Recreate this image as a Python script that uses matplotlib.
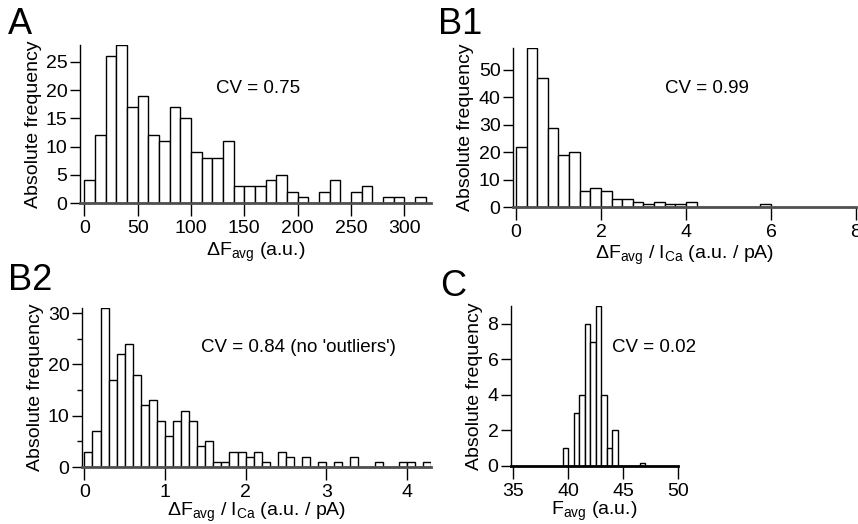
import numpy as np
import matplotlib
matplotlib.use('Agg')
import matplotlib.pyplot as plt

plt.rcParams['font.family'] = ['Liberation Sans', 'DejaVu Sans']
plt.rcParams['mathtext.fontset'] = 'custom'
plt.rcParams['mathtext.rm'] = 'Liberation Sans'
plt.rcParams['mathtext.it'] = 'Liberation Sans:italic'

# histogram counts (bin start, bin width, counts)
a_start, a_width = 0, 10
a_counts = [4, 12, 26, 28, 17, 19, 12, 11, 17, 15, 9, 8, 8, 11, 3, 3, 3, 4, 5, 2,
            1, 0, 2, 4, 0, 2, 3, 0, 1, 1, 0, 1]

b1_start, b1_width = 0, 0.25
b1_counts = [22, 58, 47, 29, 19, 20, 6, 7, 6, 3, 3, 2, 1, 2, 1, 1, 2,
             0, 0, 0, 0, 0, 0, 1]

b2_start, b2_width = 0, 0.1
b2_counts = [3, 7, 31, 17, 22, 24, 18, 12, 13, 9, 6, 9, 11, 9, 4, 5, 1, 1, 3, 3,
             2, 3, 1, 0, 3, 2, 0, 2, 0, 1, 0, 1, 0, 2, 0, 0, 1, 0, 0, 1,
             1, 0, 1]

c_start, c_width = 39.5, 0.5
c_counts = [1, 0, 3, 4, 8, 7, 9, 4, 1, 2, 0, 0, 0, 0, 0.15]

cv_texts = ['CV = 0.75', 'CV = 0.99', "CV = 0.84 (no 'outliers')", 'CV = 0.02']
panel_names = ['A', 'B1', 'B2', 'C']

W, H = 858, 524
fig = plt.figure(figsize=(W / 100, H / 100), dpi=100)

FS = 14


def px_axes(x0, y_top, x1, y_bot):
    return fig.add_axes([x0 / W, 1 - y_bot / H, (x1 - x0) / W, (y_bot - y_top) / H])


def hist_panel(ax, start, width, counts, xlim, ylim, xticks, yticks, yminor=None):
    counts = np.asarray(counts, dtype=float)
    left = start + width * np.arange(len(counts))
    ax.bar(left, counts, width=width, align='edge', facecolor='white',
           edgecolor='black', linewidth=1.0, zorder=3)
    ax.set_xlim(*xlim)
    ax.set_ylim(*ylim)
    ax.set_xticks(xticks)
    ax.set_yticks(yticks)
    if yminor is not None:
        ax.set_yticks(yminor, minor=True)
    for s in ['top', 'right']:
        ax.spines[s].set_visible(False)
    ax.spines['left'].set_bounds(0, ylim[1])
    ax.spines['left'].set_linewidth(1.0)
    ax.spines['bottom'].set_position(('data', 0))
    ax.spines['bottom'].set_linewidth(2.0)
    ax.spines['bottom'].set_color('#505050')
    ax.spines['bottom'].set_zorder(4)
    ax.tick_params(axis='both', direction='out', labelsize=FS, width=1.0,
                   length=7, pad=2)
    ax.tick_params(axis='x', length=9, pad=3)
    ax.tick_params(axis='y', which='minor', length=3.5, width=1.0)
    ax.set_ylabel('Absolute frequency', fontsize=FS, labelpad=3)
    ax.patch.set_alpha(0)


# A
axA = px_axes(80, 45, 431, 203)
hist_panel(axA, a_start, a_width, a_counts, (-4, 325), (0, 28),
           [0, 50, 100, 150, 200, 250, 300], [0, 5, 10, 15, 20, 25])
axA.set_xlabel('ΔF$_{\\rm avg}$ (a.u.)', fontsize=FS, labelpad=3)

# B1
axB1 = px_axes(513, 48, 856, 207)
hist_panel(axB1, b1_start, b1_width, b1_counts, (-0.07, 8), (0, 58),
           [0, 2, 4, 6, 8], [0, 10, 20, 30, 40, 50])
axB1.set_xlabel('ΔF$_{\\rm avg}$ / I$_{\\rm Ca}$ (a.u. / pA)', fontsize=FS, labelpad=2)

# B2
axB2 = px_axes(82, 308, 431, 467)
hist_panel(axB2, b2_start, b2_width, b2_counts, (-0.03, 4.3), (0, 31),
           [0, 1, 2, 3, 4], [0, 10, 20, 30], yminor=[5, 15, 25])
axB2.set_xlabel('ΔF$_{\\rm avg}$ / I$_{\\rm Ca}$ (a.u. / pA)', fontsize=FS, labelpad=0)

# C
axC = px_axes(511, 306, 678, 466)
hist_panel(axC, c_start, c_width, c_counts, (34.8, 50), (0, 9),
           [35, 40, 45, 50], [0, 2, 4, 6, 8])
axC.set_xlabel('F$_{\\rm avg}$ (a.u.)', fontsize=FS, labelpad=0)
axC.spines['bottom'].set_color('black')

# CV annotations
cv_pos = [(258, 88), (707, 88), (298, 347), (654, 348)]
for txt, (x, y) in zip(cv_texts, cv_pos):
    fig.text(x / W, 1 - y / H, txt, fontsize=13.5, ha='center', va='center')

# panel letters
label_pos = [(8, 25), (438, 25), (8, 280), (440, 287)]
for name, (x, y) in zip(panel_names, label_pos):
    fig.text(x / W, 1 - y / H, name, fontsize=26, ha='left', va='center')

fig.savefig('out.png', dpi=100)
